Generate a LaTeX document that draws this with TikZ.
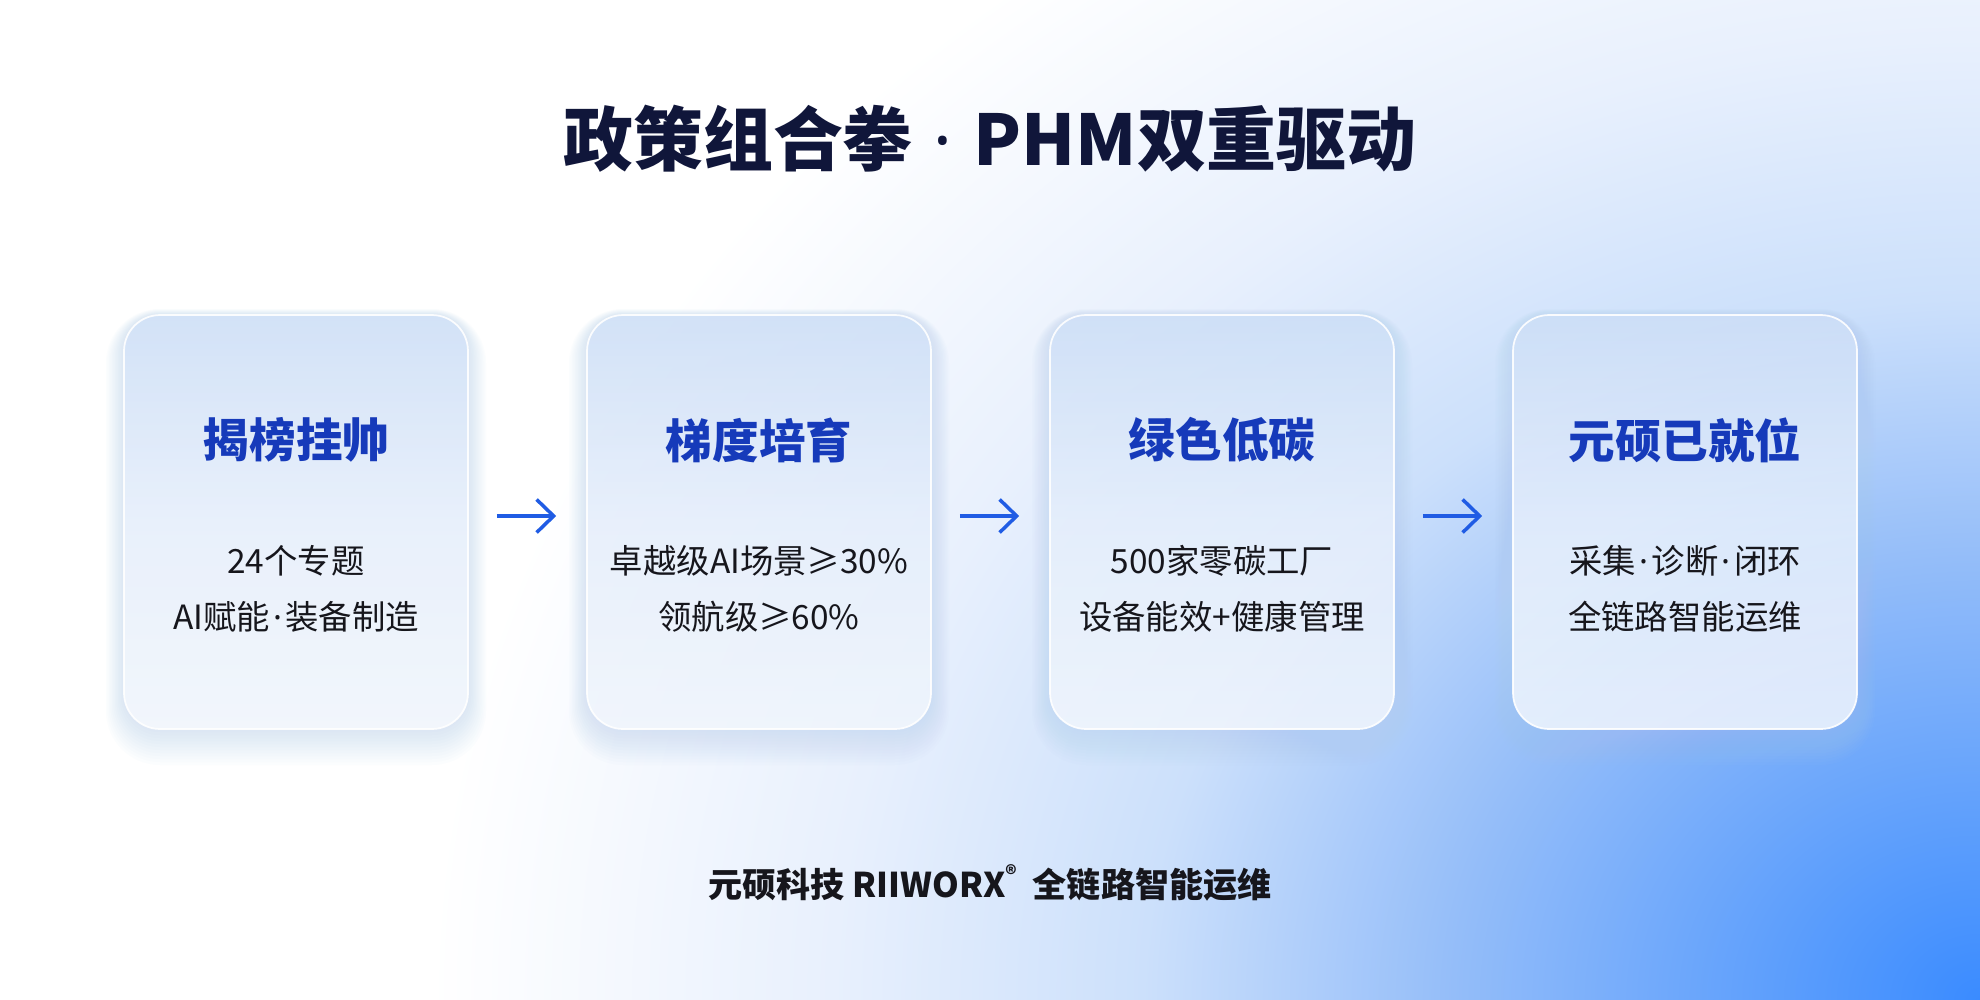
\documentclass[tikz,border=0pt]{standalone}
\usepackage{fontspec}
\setmainfont{Noto Sans CJK SC}
\newfontfamily\dotfont{Noto Sans}
\newcommand\sdot{\hspace{0.1em}{\dotfont ·}\hspace{0.1em}}
\usetikzlibrary{arrows.meta, positioning, calc}
\definecolor{cTitle}{RGB}{16,22,58}
\definecolor{cHead}{RGB}{22,58,186}
\definecolor{cBody}{RGB}{22,22,28}
\definecolor{cArrow}{RGB}{32,92,228}
\definecolor{cCardTop}{RGB}{208,225,249}
\definecolor{cCardMid}{RGB}{236,243,253}
\definecolor{cCardBot}{RGB}{248,251,255}
\definecolor{cGlow}{RGB}{176,204,244}
\definecolor{glowA}{RGB}{58,139,255}
\definecolor{glowB}{RGB}{96,160,252}
\definecolor{glowC}{RGB}{148,189,249}
\definecolor{glowD}{RGB}{204,224,251}
\definecolor{glowE}{RGB}{232,240,253}
\pgfdeclareradialshading{cornerglow}{\pgfpoint{0bp}{0bp}}{color(0bp)=(glowA); color(3.6bp)=(glowB); color(8.5bp)=(glowC); color(13.5bp)=(glowD); color(18.5bp)=(glowE); color(25bp)=(white); color(50bp)=(white)}
\tikzset{
	card/.style    ={rectangle, rounded corners=0.72cm, minimum width=6.88cm, minimum height=8.28cm, draw=white, line width=1pt, fill opacity=0.78, draw opacity=0.9, top color=cCardTop, bottom color=cCardBot, middle color=cCardMid},
	headtxt/.style ={font=\bfseries\fontsize{26.5}{30}\selectfont, text=cHead},
	bodytxt/.style ={font=\fontsize{19}{32}\selectfont, text=cBody, align=center},
	titletxt/.style={font=\bfseries\fontsize{39.8}{44}\selectfont, text=cTitle},
	foottxt/.style ={font=\bfseries\fontsize{19.4}{22}\selectfont, text=cBody},
	flow/.style    ={-{Straight Barb[length=0.34cm, width=0.66cm]}, line width=2pt, cArrow, shorten <=0.56cm, shorten >=0.6cm},
}

\begin{document}
\begin{tikzpicture}[x=0.02cm, y=-0.02cm]
	\useasboundingbox (0,0) rectangle (1980,1000);
	% background
	\fill[white] (0,0) rectangle (1980,1000);
	\begin{scope}
		\clip (0,0) rectangle (1980,1000);
		\shade[shading=cornerglow] (1980,1000) ellipse [x radius=1550, y radius=1300];
	\end{scope}
	% soft glow under the cards
	\foreach \x in {296,759,1222,1685}
		\foreach \g in {1,...,12}
			\fill[cGlow, fill opacity=0.04, rounded corners=0.72cm+0.03cm*\g] (\x-172-1.5*\g, 315-0.5*\g) rectangle (\x+172+1.5*\g, 729+3*\g);
	% cards
	\foreach \x [count=\i] in {296,759,1222,1685}
		\node[card] (card\i) at (\x,522) {};
	% title
	\node[titletxt] (title) at (990,139) {政策组合拳\hspace{0.2em}\sdot\hspace{0.2em}PHM双重驱动};
	% card texts
	\node[headtxt] (head1) at ([yshift=-2.52cm]card1.north) {揭榜挂帅};
	\node[bodytxt] (body1) at ([yshift=-5.5cm]card1.north) {24个专题\\AI赋能\sdot 装备制造};
	\node[headtxt] (head2) at ([yshift=-2.52cm]card2.north) {梯度培育};
	\node[bodytxt] (body2) at ([yshift=-5.5cm]card2.north) {卓越级AI场景≥30\%\\领航级≥60\%};
	\node[headtxt] (head3) at ([yshift=-2.52cm]card3.north) {绿色低碳};
	\node[bodytxt] (body3) at ([yshift=-5.5cm]card3.north) {500家零碳工厂\\设备能效+健康管理};
	\node[headtxt] (head4) at ([yshift=-2.52cm]card4.north) {元硕已就位};
	\node[bodytxt] (body4) at ([yshift=-5.5cm]card4.north) {采集\sdot 诊断\sdot 闭环\\全链路智能运维};
	% arrows
	\foreach \a/\b in {1/2, 2/3, 3/4}
		\draw[flow] ([yshift=0.12cm]card\a.east) -- ([yshift=0.12cm]card\b.west);
	% footer
	\node[foottxt] (brand) at (990,883) {元硕科技 RIIWORX\raisebox{0.42em}{\fontsize{12.5}{12.5}\selectfont ®}\ \ 全链路智能运维};
\end{tikzpicture}
\end{document}
